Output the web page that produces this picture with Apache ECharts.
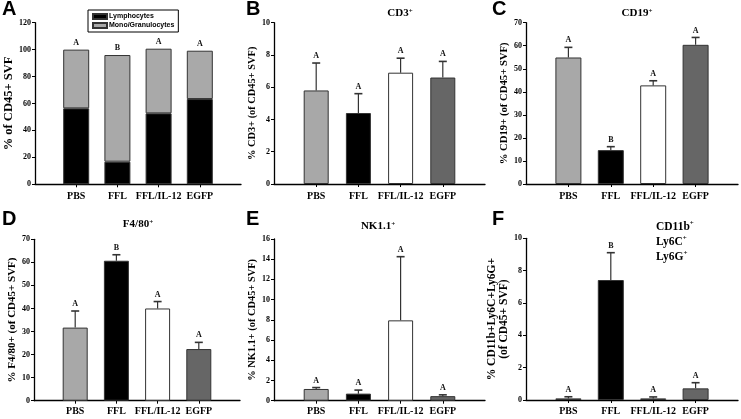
<!DOCTYPE html>
<html><head><meta charset="utf-8">
<script src="https://cdn.jsdelivr.net/npm/echarts@6/dist/echarts.min.js"></script>
<style>html,body{margin:0;padding:0;background:#fff}#c{width:741px;height:419px}</style>
</head><body><div id="c"></div>
<script>
// ---- data ----
const categories = ['PBS', 'FFL', 'FFL/IL-12', 'EGFP'];
const lymphocytes = [56.4, 16.8, 52.7, 63.3];
const monoGranulocytes = [43.6, 79.2, 48.0, 35.9];
const lettersA = ['A', 'B', 'A', 'A'];
const cd3 = [5.8, 4.4, 6.9, 6.6];
const cd3Err = [1.7, 1.2, 0.9, 1.0];
const lettersB = ['A', 'A', 'A', 'A'];
const cd19 = [54.9, 14.7, 42.8, 60.4];
const cd19Err = [4.4, 1.5, 2.0, 3.2];
const lettersC = ['A', 'B', 'A', 'A'];
const f480 = [31.7, 60.7, 40.0, 22.4];
const f480Err = [7.2, 2.6, 3.0, 2.9];
const lettersD = ['A', 'B', 'A', 'A'];
const nk11 = [1.16, 0.7, 7.95, 0.45];
const nk11Err = [0.14, 0.35, 6.3, 0.13];
const lettersE = ['A', 'A', 'A', 'A'];
const cd11b = [0.1, 7.42, 0.1, 0.72];
const cd11bErr = [0.1, 1.69, 0.09, 0.35];
const lettersF = ['A', 'B', 'A', 'A'];
const yTicksA = [0, 120, 20];
const yTicksB = [0, 10, 2];
const yTicksC = [0, 70, 10];
const yTicksD = [0, 70, 10];
const yTicksE = [0, 16, 2];
const yTicksF = [0, 10, 2];

// ---- styling ----
const groupColors = ['#a8a8a8', '#000000', '#ffffff', '#666666'];
const SERIF = '"Liberation Serif", "Times New Roman", serif';
const SANS = '"Liberation Sans", Arial, sans-serif';
const axisCats = [''].concat(categories, ['']);

const grids = [
  {left: 35, top: 22.7, width: 206, height: 161.6},
  {left: 274, top: 22.7, width: 211, height: 161.3},
  {left: 526, top: 22.7, width: 212, height: 161.3},
  {left: 34, top: 239.3, width: 206, height: 161.4},
  {left: 274, top: 239, width: 211, height: 161.7},
  {left: 526, top: 238.3, width: 212, height: 161.7}
];
const yNames = ['% of CD45+ SVF', '% CD3+ (of CD45+ SVF)', '% CD19+ (of CD45+ SVF)',
  '% F4/80+ (of CD45+ SVF)', '% NK1.1+ (of CD45+ SVF)', '% CD11b+Ly6C+Ly6G+\n(of CD45+ SVF)'];
const yNameGaps = [15, 14, 15, 14, 14, 11];
const yNameSizes = [12.5, 10.4, 10.7, 11, 10.4, 11.5];
const yTicks = [yTicksA, yTicksB, yTicksC, yTicksD, yTicksE, yTicksF];
const catMargins = [7, 7, 7, 6, 6, 6];

const xAxes = grids.map((g, i) => ({
  type: 'category', gridIndex: i, data: axisCats, boundaryGap: false,
  axisLine: {lineStyle: {color: '#000', width: 1.3}},
  axisTick: {show: true, length: 3, lineStyle: {color: '#000', width: 1}, interval: (idx, v) => v !== ''},
  axisLabel: {interval: 0, margin: catMargins[i], color: '#000', fontFamily: SERIF, fontWeight: 'bold', fontSize: 10}
}));
const yAxes = grids.map((g, i) => ({
  type: 'value', gridIndex: i, min: yTicks[i][0], max: yTicks[i][1], interval: yTicks[i][2],
  name: yNames[i], nameLocation: 'middle', nameRotate: 90, nameGap: yNameGaps[i],
  nameTextStyle: {fontFamily: SERIF, fontWeight: 'bold', fontSize: yNameSizes[i], color: '#000', lineHeight: 12},
  axisLine: {show: true, lineStyle: {color: '#000', width: 1.3}},
  axisTick: {show: true, length: 3, lineStyle: {color: '#000'}},
  splitLine: {show: false},
  axisLabel: {margin: 4, color: '#000', fontFamily: SERIF, fontWeight: 'bold', fontSize: 8}
}));

function barData(vals) {
  return vals.map((v, i) => ({value: [i + 1, v], itemStyle: {color: groupColors[i]}}));
}
function errSeries(idx, vals, errs, letters, drawErr) {
  return {
    type: 'custom', xAxisIndex: idx, yAxisIndex: idx, z: 10,
    data: vals.map((v, i) => [i + 1, v, errs[i]]),
    renderItem: function (params, api) {
      const x = api.value(0), v = api.value(1), e = api.value(2);
      const p0 = api.coord([x, v]);
      const p1 = api.coord([x, v + e]);
      const children = [];
      if (drawErr) {
        children.push({type: 'line', shape: {x1: p0[0], y1: p0[1], x2: p1[0], y2: p1[1]}, style: {stroke: '#333', lineWidth: 1.2}});
        children.push({type: 'line', shape: {x1: p1[0] - 4, y1: p1[1], x2: p1[0] + 4, y2: p1[1]}, style: {stroke: '#333', lineWidth: 1.6}});
      }
      children.push({type: 'text', x: p1[0], y: p1[1] - 3,
        style: {text: letters[params.dataIndex], textAlign: 'center', textVerticalAlign: 'bottom',
          font: 'bold 8px ' + SERIF, fill: '#111'}});
      return {type: 'group', children: children};
    }
  };
}
function barSeries(idx, vals, width) {
  return {type: 'bar', xAxisIndex: idx, yAxisIndex: idx, barWidth: width, data: barData(vals),
    itemStyle: {borderColor: '#333', borderWidth: 1}};
}

const totalsA = lymphocytes.map((v, i) => v + monoGranulocytes[i]);
const series = [
  {name: 'Lymphocytes', type: 'bar', stack: 'a', xAxisIndex: 0, yAxisIndex: 0, barWidth: 26,
    data: lymphocytes.map((v, i) => [i + 1, v]), itemStyle: {color: '#000', borderColor: '#333', borderWidth: 1}},
  {name: 'Mono/Granulocytes', type: 'bar', stack: 'a', xAxisIndex: 0, yAxisIndex: 0, barWidth: 26,
    data: monoGranulocytes.map((v, i) => [i + 1, v]), itemStyle: {color: '#a9a9a9', borderColor: '#333', borderWidth: 1}},
  errSeries(0, totalsA, [0, 0, 0, 0], lettersA, false),
  barSeries(1, cd3, 25), errSeries(1, cd3, cd3Err, lettersB, true),
  barSeries(2, cd19, 26), errSeries(2, cd19, cd19Err, lettersC, true),
  barSeries(3, f480, 25), errSeries(3, f480, f480Err, lettersD, true),
  barSeries(4, nk11, 25), errSeries(4, nk11, nk11Err, lettersE, true),
  barSeries(5, cd11b, 26), errSeries(5, cd11b, cd11bErr, lettersF, true)
];

const sup = {s: {fontSize: 7, fontFamily: SERIF, fontWeight: 'bold', color: '#000', verticalAlign: 'top', lineHeight: 10}};
const titleStyle = (size) => ({fontFamily: SERIF, fontWeight: 'bold', fontSize: size, color: '#000', rich: sup});
const letterStyle = {fontFamily: SANS, fontWeight: 'bold', fontSize: 20, color: '#000'};
const titles = [
  {text: 'A', left: 2, top: -1, textStyle: letterStyle},
  {text: 'B', left: 246, top: -1, textStyle: letterStyle},
  {text: 'C', left: 492, top: -1, textStyle: letterStyle},
  {text: 'D', left: 2, top: 209, textStyle: letterStyle},
  {text: 'E', left: 246, top: 209, textStyle: letterStyle},
  {text: 'F', left: 492, top: 209, textStyle: letterStyle},
  {text: 'CD3{s|+}', left: 400, top: 8, textAlign: 'center', textStyle: titleStyle(11)},
  {text: 'CD19{s|+}', left: 637, top: 8, textAlign: 'center', textStyle: titleStyle(11)},
  {text: 'F4/80{s|+}', left: 138, top: 219, textAlign: 'center', textStyle: titleStyle(11)},
  {text: 'NK1.1{s|+}', left: 378, top: 221, textAlign: 'center', textStyle: titleStyle(11)},
  {text: 'CD11b{s|+}\nLy6C{s|+}\nLy6G{s|+}', left: 656, top: 220,
    textStyle: Object.assign(titleStyle(11.5), {lineHeight: 15})}
];
titles.forEach(t => { t.padding = 0; });

const chart = echarts.init(document.getElementById('c'), null, {renderer: 'canvas'});
chart.setOption({
  backgroundColor: '#fff',
  animation: false,
  title: titles,
  legend: {
    data: ['Lymphocytes', 'Mono/Granulocytes'], orient: 'vertical', left: 88, top: 10,
    icon: 'rect', itemWidth: 14, itemHeight: 5, itemGap: 2, padding: [3, 4, 3, 4],
    borderColor: '#000', borderWidth: 1,
    textStyle: {fontFamily: SANS, fontWeight: 'bold', fontSize: 7, color: '#000', padding: [0, 0, 0, -3]}
  },
  grid: grids,
  xAxis: xAxes,
  yAxis: yAxes,
  series: series
});
</script></body></html>
